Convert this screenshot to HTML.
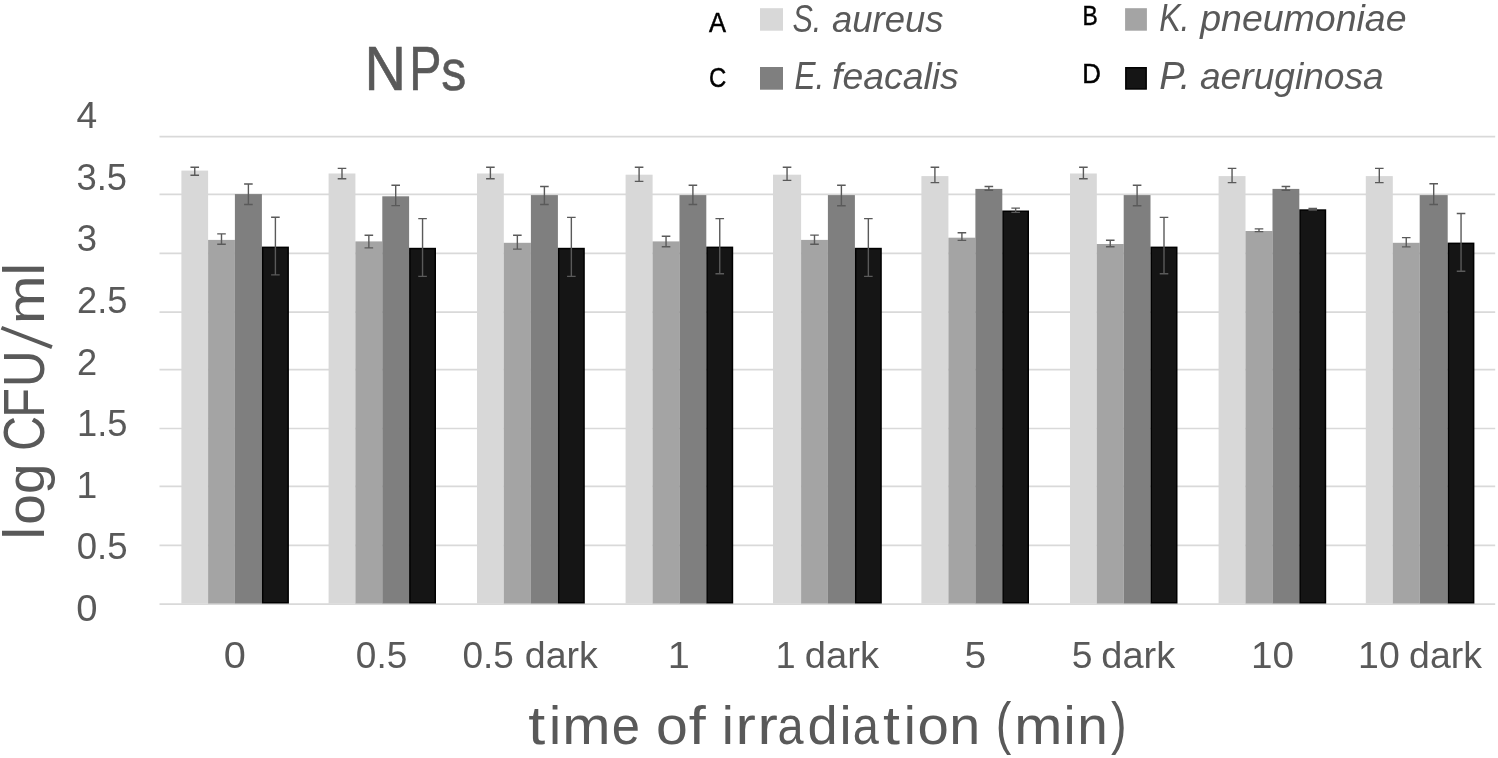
<!DOCTYPE html>
<html><head><meta charset="utf-8"><title>NPs chart</title>
<style>
html,body{margin:0;padding:0;background:#fff;}
body{width:1498px;height:758px;overflow:hidden;}
svg{display:block;filter:grayscale(1);}
.f{font-family:"Liberation Sans",sans-serif;}
</style></head>
<body>
<svg width="1498" height="758" viewBox="0 0 1498 758">
<rect width="1498" height="758" fill="#fff"/>
<line x1="159.5" y1="136.60" x2="1495.2" y2="136.60" stroke="#d9d9d9" stroke-width="1.7"/>
<line x1="159.5" y1="194.30" x2="1495.2" y2="194.30" stroke="#d9d9d9" stroke-width="1.7"/>
<line x1="159.5" y1="253.30" x2="1495.2" y2="253.30" stroke="#d9d9d9" stroke-width="1.7"/>
<line x1="159.5" y1="312.10" x2="1495.2" y2="312.10" stroke="#d9d9d9" stroke-width="1.7"/>
<line x1="159.5" y1="369.70" x2="1495.2" y2="369.70" stroke="#d9d9d9" stroke-width="1.7"/>
<line x1="159.5" y1="428.50" x2="1495.2" y2="428.50" stroke="#d9d9d9" stroke-width="1.7"/>
<line x1="159.5" y1="486.40" x2="1495.2" y2="486.40" stroke="#d9d9d9" stroke-width="1.7"/>
<line x1="159.5" y1="545.30" x2="1495.2" y2="545.30" stroke="#d9d9d9" stroke-width="1.7"/>
<line x1="159.5" y1="604.10" x2="1495.2" y2="604.10" stroke="#d9d9d9" stroke-width="1.7"/>
<rect x="181.40" y="170.60" width="26.70" height="432.90" fill="#d8d8d8"/>
<rect x="208.10" y="239.90" width="26.80" height="363.60" fill="#a4a4a4"/>
<rect x="234.90" y="194.10" width="27.00" height="409.40" fill="#7f7f7f"/>
<rect x="262.65" y="247.35" width="25.50" height="355.40" fill="#151515" stroke="#000" stroke-width="1.5"/>
<rect x="328.60" y="173.50" width="26.80" height="430.00" fill="#d8d8d8"/>
<rect x="355.40" y="241.40" width="26.90" height="362.10" fill="#a4a4a4"/>
<rect x="382.30" y="196.30" width="26.80" height="407.20" fill="#7f7f7f"/>
<rect x="409.85" y="248.55" width="25.40" height="354.20" fill="#151515" stroke="#000" stroke-width="1.5"/>
<rect x="477.00" y="173.50" width="26.80" height="430.00" fill="#d8d8d8"/>
<rect x="503.80" y="242.80" width="27.10" height="360.70" fill="#a4a4a4"/>
<rect x="530.90" y="195.10" width="27.00" height="408.40" fill="#7f7f7f"/>
<rect x="558.65" y="248.55" width="25.40" height="354.20" fill="#151515" stroke="#000" stroke-width="1.5"/>
<rect x="625.60" y="174.70" width="27.00" height="428.80" fill="#d8d8d8"/>
<rect x="652.60" y="241.40" width="26.90" height="362.10" fill="#a4a4a4"/>
<rect x="679.50" y="195.10" width="26.80" height="408.40" fill="#7f7f7f"/>
<rect x="707.05" y="247.35" width="25.40" height="355.40" fill="#151515" stroke="#000" stroke-width="1.5"/>
<rect x="773.00" y="174.70" width="28.10" height="428.80" fill="#d8d8d8"/>
<rect x="801.10" y="239.90" width="26.80" height="363.60" fill="#a4a4a4"/>
<rect x="827.90" y="195.10" width="27.00" height="408.40" fill="#7f7f7f"/>
<rect x="855.65" y="248.55" width="25.40" height="354.20" fill="#151515" stroke="#000" stroke-width="1.5"/>
<rect x="921.40" y="176.10" width="27.00" height="427.40" fill="#d8d8d8"/>
<rect x="948.40" y="237.70" width="27.00" height="365.80" fill="#a4a4a4"/>
<rect x="975.40" y="188.90" width="26.90" height="414.60" fill="#7f7f7f"/>
<rect x="1003.05" y="211.25" width="25.20" height="391.50" fill="#151515" stroke="#000" stroke-width="1.5"/>
<rect x="1070.00" y="173.50" width="26.80" height="430.00" fill="#d8d8d8"/>
<rect x="1096.80" y="244.00" width="26.90" height="359.50" fill="#a4a4a4"/>
<rect x="1123.70" y="195.10" width="26.80" height="408.40" fill="#7f7f7f"/>
<rect x="1151.25" y="247.35" width="25.50" height="355.40" fill="#151515" stroke="#000" stroke-width="1.5"/>
<rect x="1218.60" y="176.10" width="26.90" height="427.40" fill="#d8d8d8"/>
<rect x="1245.50" y="231.00" width="27.00" height="372.50" fill="#a4a4a4"/>
<rect x="1272.50" y="188.90" width="26.80" height="414.60" fill="#7f7f7f"/>
<rect x="1300.05" y="210.05" width="25.40" height="392.70" fill="#151515" stroke="#000" stroke-width="1.5"/>
<rect x="1365.80" y="176.10" width="27.00" height="427.40" fill="#d8d8d8"/>
<rect x="1392.80" y="242.80" width="26.90" height="360.70" fill="#a4a4a4"/>
<rect x="1419.70" y="195.10" width="28.00" height="408.40" fill="#7f7f7f"/>
<rect x="1448.45" y="243.35" width="25.20" height="359.40" fill="#151515" stroke="#000" stroke-width="1.5"/>
<path d="M194.75 167.20V175.20M190.45 167.20H199.05M190.45 175.20H199.05" stroke="#5a5a5a" stroke-width="1.4" fill="none"/>
<path d="M221.50 233.90V244.20M217.20 233.90H225.80M217.20 244.20H225.80" stroke="#5a5a5a" stroke-width="1.4" fill="none"/>
<path d="M248.40 184.00V204.50M244.10 184.00H252.70M244.10 204.50H252.70" stroke="#5a5a5a" stroke-width="1.4" fill="none"/>
<path d="M275.40 217.20V274.90M271.10 217.20H279.70M271.10 274.90H279.70" stroke="#5a5a5a" stroke-width="1.4" fill="none"/>
<path d="M342.00 168.40V178.80M337.70 168.40H346.30M337.70 178.80H346.30" stroke="#5a5a5a" stroke-width="1.4" fill="none"/>
<path d="M368.85 235.20V247.90M364.55 235.20H373.15M364.55 247.90H373.15" stroke="#5a5a5a" stroke-width="1.4" fill="none"/>
<path d="M395.70 185.30V205.60M391.40 185.30H400.00M391.40 205.60H400.00" stroke="#5a5a5a" stroke-width="1.4" fill="none"/>
<path d="M422.55 218.60V276.40M418.25 218.60H426.85M418.25 276.40H426.85" stroke="#5a5a5a" stroke-width="1.4" fill="none"/>
<path d="M490.40 167.30V178.80M486.10 167.30H494.70M486.10 178.80H494.70" stroke="#5a5a5a" stroke-width="1.4" fill="none"/>
<path d="M517.35 235.20V249.10M513.05 235.20H521.65M513.05 249.10H521.65" stroke="#5a5a5a" stroke-width="1.4" fill="none"/>
<path d="M544.40 186.50V204.50M540.10 186.50H548.70M540.10 204.50H548.70" stroke="#5a5a5a" stroke-width="1.4" fill="none"/>
<path d="M571.35 217.40V276.40M567.05 217.40H575.65M567.05 276.40H575.65" stroke="#5a5a5a" stroke-width="1.4" fill="none"/>
<path d="M639.10 167.30V181.40M634.80 167.30H643.40M634.80 181.40H643.40" stroke="#5a5a5a" stroke-width="1.4" fill="none"/>
<path d="M666.05 236.30V246.70M661.75 236.30H670.35M661.75 246.70H670.35" stroke="#5a5a5a" stroke-width="1.4" fill="none"/>
<path d="M692.90 185.30V204.50M688.60 185.30H697.20M688.60 204.50H697.20" stroke="#5a5a5a" stroke-width="1.4" fill="none"/>
<path d="M719.75 218.60V273.70M715.45 218.60H724.05M715.45 273.70H724.05" stroke="#5a5a5a" stroke-width="1.4" fill="none"/>
<path d="M787.05 167.30V180.40M782.75 167.30H791.35M782.75 180.40H791.35" stroke="#5a5a5a" stroke-width="1.4" fill="none"/>
<path d="M814.50 235.10V244.20M810.20 235.10H818.80M810.20 244.20H818.80" stroke="#5a5a5a" stroke-width="1.4" fill="none"/>
<path d="M841.40 185.30V205.70M837.10 185.30H845.70M837.10 205.70H845.70" stroke="#5a5a5a" stroke-width="1.4" fill="none"/>
<path d="M868.35 218.60V276.40M864.05 218.60H872.65M864.05 276.40H872.65" stroke="#5a5a5a" stroke-width="1.4" fill="none"/>
<path d="M934.90 167.30V182.60M930.60 167.30H939.20M930.60 182.60H939.20" stroke="#5a5a5a" stroke-width="1.4" fill="none"/>
<path d="M961.90 232.70V240.40M957.60 232.70H966.20M957.60 240.40H966.20" stroke="#5a5a5a" stroke-width="1.4" fill="none"/>
<path d="M988.85 186.50V190.30M984.55 186.50H993.15M984.55 190.30H993.15" stroke="#5a5a5a" stroke-width="1.4" fill="none"/>
<path d="M1015.65 208.10V212.40M1011.35 208.10H1019.95M1011.35 212.40H1019.95" stroke="#5a5a5a" stroke-width="1.4" fill="none"/>
<path d="M1083.40 167.30V178.80M1079.10 167.30H1087.70M1079.10 178.80H1087.70" stroke="#5a5a5a" stroke-width="1.4" fill="none"/>
<path d="M1110.25 240.20V246.70M1105.95 240.20H1114.55M1105.95 246.70H1114.55" stroke="#5a5a5a" stroke-width="1.4" fill="none"/>
<path d="M1137.10 185.30V205.70M1132.80 185.30H1141.40M1132.80 205.70H1141.40" stroke="#5a5a5a" stroke-width="1.4" fill="none"/>
<path d="M1164.00 217.40V273.70M1159.70 217.40H1168.30M1159.70 273.70H1168.30" stroke="#5a5a5a" stroke-width="1.4" fill="none"/>
<path d="M1232.05 168.40V182.60M1227.75 168.40H1236.35M1227.75 182.60H1236.35" stroke="#5a5a5a" stroke-width="1.4" fill="none"/>
<path d="M1259.00 228.90V231.60M1254.70 228.90H1263.30M1254.70 231.60H1263.30" stroke="#5a5a5a" stroke-width="1.4" fill="none"/>
<path d="M1285.90 186.50V190.30M1281.60 186.50H1290.20M1281.60 190.30H1290.20" stroke="#5a5a5a" stroke-width="1.4" fill="none"/>
<path d="M1312.75 208.50V210.00M1308.45 208.50H1317.05M1308.45 210.00H1317.05" stroke="#5a5a5a" stroke-width="1.4" fill="none"/>
<path d="M1379.30 168.40V182.60M1375.00 168.40H1383.60M1375.00 182.60H1383.60" stroke="#5a5a5a" stroke-width="1.4" fill="none"/>
<path d="M1406.25 237.60V246.90M1401.95 237.60H1410.55M1401.95 246.90H1410.55" stroke="#5a5a5a" stroke-width="1.4" fill="none"/>
<path d="M1433.70 183.80V204.50M1429.40 183.80H1438.00M1429.40 204.50H1438.00" stroke="#5a5a5a" stroke-width="1.4" fill="none"/>
<path d="M1461.05 213.50V271.30M1456.75 213.50H1465.35M1456.75 271.30H1465.35" stroke="#5a5a5a" stroke-width="1.4" fill="none"/>
<text transform="translate(364.40,89.6) scale(0.9200,1)" font-size="62.5" fill="#595959" class="f" stroke="#595959" stroke-width="0.6">N</text>
<text transform="translate(409.24,89.6) scale(0.7727,1)" font-size="62.5" fill="#595959" class="f" stroke="#595959" stroke-width="0.6">P</text>
<text transform="translate(441.30,89.6) scale(0.8000,0.93)" font-size="62.5" fill="#595959" class="f" stroke="#595959" stroke-width="0.6">s</text>
<text transform="translate(709.00,32.3) scale(0.8947,1)" font-size="28.5" fill="#000" class="f" stroke="#000" stroke-width="0.5">A</text>
<text transform="translate(1082.40,24.7) scale(0.8000,1)" font-size="28.5" fill="#000" class="f" stroke="#000" stroke-width="0.5">B</text>
<text transform="translate(709.06,87.0) scale(0.8389,1)" font-size="28.5" fill="#000" class="f" stroke="#000" stroke-width="0.5">C</text>
<text transform="translate(1082.19,83.4) scale(0.9059,1)" font-size="28.5" fill="#000" class="f" stroke="#000" stroke-width="0.5">D</text>
<text transform="translate(792.40,31.5) scale(0.7968,1)" font-size="38.5" fill="#595959" class="f" font-style="italic">S.</text>
<text transform="translate(831.95,31.5) scale(0.9474,0.95)" font-size="38.5" fill="#595959" class="f" font-style="italic">aureus</text>
<text transform="translate(1159.16,31.2) scale(0.8355,1)" font-size="38.5" fill="#595959" class="f" font-style="italic">K.</text>
<text transform="translate(1200.17,31.0) scale(0.9745,0.95)" font-size="38.5" fill="#595959" class="f" font-style="italic">pneumoniae</text>
<text transform="translate(794.38,89.1) scale(0.8194,1)" font-size="38.5" fill="#595959" class="f" font-style="italic">E.</text>
<text transform="translate(832.03,89.1) scale(0.9705,0.95)" font-size="38.5" fill="#595959" class="f" font-style="italic">feacalis</text>
<text transform="translate(1159.32,89.4) scale(0.9846,1)" font-size="38.5" fill="#595959" class="f" font-style="italic">P.</text>
<text transform="translate(1199.94,89.4) scale(0.9649,0.95)" font-size="38.5" fill="#595959" class="f" font-style="italic">aeruginosa</text>
<text transform="translate(76.62,128.4) scale(0.9842,1)" font-size="37.8" fill="#595959" class="f">4</text>
<text transform="translate(76.58,190.4) scale(0.9612,1)" font-size="37.8" fill="#595959" class="f">3.5</text>
<text transform="translate(76.67,251.4) scale(0.9647,1)" font-size="37.8" fill="#595959" class="f">3</text>
<text transform="translate(77.08,313.0) scale(0.9592,1)" font-size="37.8" fill="#595959" class="f">2.5</text>
<text transform="translate(77.08,375.0) scale(0.9588,1)" font-size="37.8" fill="#595959" class="f">2</text>
<text transform="translate(77.02,435.6) scale(0.9604,1)" font-size="37.8" fill="#595959" class="f">1.5</text>
<text transform="translate(76.54,497.6) scale(0.9875,1)" font-size="37.8" fill="#595959" class="f">1</text>
<text transform="translate(76.67,558.5) scale(0.9673,1)" font-size="37.8" fill="#595959" class="f">0.5</text>
<text transform="translate(76.18,620.6) scale(1.0111,1)" font-size="37.8" fill="#595959" class="f">0</text>
<text transform="translate(223.68,668.2) scale(1.0588,1)" font-size="37.5" fill="#595959" class="f">0</text>
<text transform="translate(355.83,668.2) scale(0.9857,1)" font-size="37.5" fill="#595959" class="f">0.5</text>
<text transform="translate(462.53,668.2) scale(0.9857,1)" font-size="37.5" fill="#595959" class="f">0.5</text>
<text transform="translate(524.80,668.2) scale(1.0014,1)" font-size="37.5" fill="#595959" class="f">dark</text>
<text transform="translate(667.63,668.2) scale(1.0563,1)" font-size="37.5" fill="#595959" class="f">1</text>
<text transform="translate(775.85,668.2) scale(0.9500,1)" font-size="37.5" fill="#595959" class="f">1</text>
<text transform="translate(804.87,668.2) scale(1.0155,1)" font-size="37.5" fill="#595959" class="f">dark</text>
<text transform="translate(964.52,668.2) scale(1.0412,1)" font-size="37.5" fill="#595959" class="f">5</text>
<text transform="translate(1071.71,668.2) scale(0.9941,1)" font-size="37.5" fill="#595959" class="f">5</text>
<text transform="translate(1101.27,668.2) scale(1.0127,1)" font-size="37.5" fill="#595959" class="f">dark</text>
<text transform="translate(1250.90,668.2) scale(1.0324,1)" font-size="37.5" fill="#595959" class="f">10</text>
<text transform="translate(1358.11,668.2) scale(0.9973,1)" font-size="37.5" fill="#595959" class="f">10</text>
<text transform="translate(1409.11,668.2) scale(0.9972,1)" font-size="37.5" fill="#595959" class="f">dark</text>
<text transform="translate(528.29,743.6) scale(1.1200,1)" font-size="54.5" fill="#595959" class="f">t</text>
<text transform="translate(549.00,743.6) scale(1.0000,1)" font-size="54.5" fill="#595959" class="f">i</text>
<text transform="translate(562.35,743.6) scale(1.0632,1)" font-size="54.5" fill="#595959" class="f">m</text>
<text transform="translate(611.84,743.6) scale(0.9308,1)" font-size="54.5" fill="#595959" class="f">e</text>
<text transform="translate(655.90,743.6) scale(1.0500,1)" font-size="54.5" fill="#595959" class="f">o</text>
<text transform="translate(688.74,743.6) scale(1.1200,1)" font-size="54.5" fill="#595959" class="f">f</text>
<text transform="translate(721.85,743.6) scale(1.0000,1)" font-size="54.5" fill="#595959" class="f">i</text>
<text transform="translate(735.44,743.6) scale(1.1200,1)" font-size="54.5" fill="#595959" class="f">r</text>
<text transform="translate(757.44,743.6) scale(1.1200,1)" font-size="54.5" fill="#595959" class="f">r</text>
<text transform="translate(777.44,743.6) scale(0.8600,1)" font-size="54.5" fill="#595959" class="f">a</text>
<text transform="translate(807.51,743.6) scale(0.9960,1)" font-size="54.5" fill="#595959" class="f">d</text>
<text transform="translate(839.55,743.6) scale(1.0000,1)" font-size="54.5" fill="#595959" class="f">i</text>
<text transform="translate(852.84,743.6) scale(0.8600,1)" font-size="54.5" fill="#595959" class="f">a</text>
<text transform="translate(883.09,743.6) scale(1.1200,1)" font-size="54.5" fill="#595959" class="f">t</text>
<text transform="translate(903.80,743.6) scale(1.0000,1)" font-size="54.5" fill="#595959" class="f">i</text>
<text transform="translate(917.43,743.6) scale(1.0346,1)" font-size="54.5" fill="#595959" class="f">o</text>
<text transform="translate(949.31,743.6) scale(1.0217,1)" font-size="54.5" fill="#595959" class="f">n</text>
<text transform="translate(995.80,742.6) scale(0.8600,1.058)" font-size="54.5" fill="#595959" class="f">(</text>
<text transform="translate(1014.26,743.6) scale(1.0605,1)" font-size="54.5" fill="#595959" class="f">m</text>
<text transform="translate(1063.60,743.6) scale(1.0000,1)" font-size="54.5" fill="#595959" class="f">i</text>
<text transform="translate(1077.37,743.6) scale(1.0087,1)" font-size="54.5" fill="#595959" class="f">n</text>
<text transform="translate(1111.12,742.6) scale(0.8600,1.058)" font-size="54.5" fill="#595959" class="f">)</text>
<text transform="translate(44.2,539.45) rotate(-90) scale(1.0000,1)" font-size="56.5" fill="#595959" class="f">l</text>
<text transform="translate(44.2,524.75) rotate(-90) scale(0.9741,0.96)" font-size="56.5" fill="#595959" class="f">o</text>
<text transform="translate(44.2,493.94) rotate(-90) scale(0.9692,0.96)" font-size="56.5" fill="#595959" class="f">g</text>
<text transform="translate(44.2,451.03) rotate(-90) scale(0.8600,1)" font-size="56.5" fill="#595959" class="f">C</text>
<text transform="translate(44.2,417.71) rotate(-90) scale(0.8600,1)" font-size="56.5" fill="#595959" class="f">F</text>
<text transform="translate(44.2,387.21) rotate(-90) scale(0.9031,1)" font-size="56.5" fill="#595959" class="f">U</text>
<text transform="translate(44.2,324.12) rotate(-90) scale(1.0308,0.96)" font-size="56.5" fill="#595959" class="f">m</text>
<text transform="translate(44.2,275.40) rotate(-90) scale(1.0000,1)" font-size="56.5" fill="#595959" class="f">l</text>
<path d="M1.45 327.75L51.95 347.15" stroke="#595959" stroke-width="4" fill="none"/>
<rect x="760" y="8.2" width="23" height="22.5" fill="#d8d8d8"/>
<rect x="1125.1" y="8.2" width="21.8" height="22.5" fill="#a4a4a4"/>
<rect x="760" y="67" width="23" height="22.7" fill="#7f7f7f"/>
<rect x="1125.85" y="67.75" width="20.3" height="21.2" fill="#151515" stroke="#000" stroke-width="1.5"/>
</svg>
</body></html>
